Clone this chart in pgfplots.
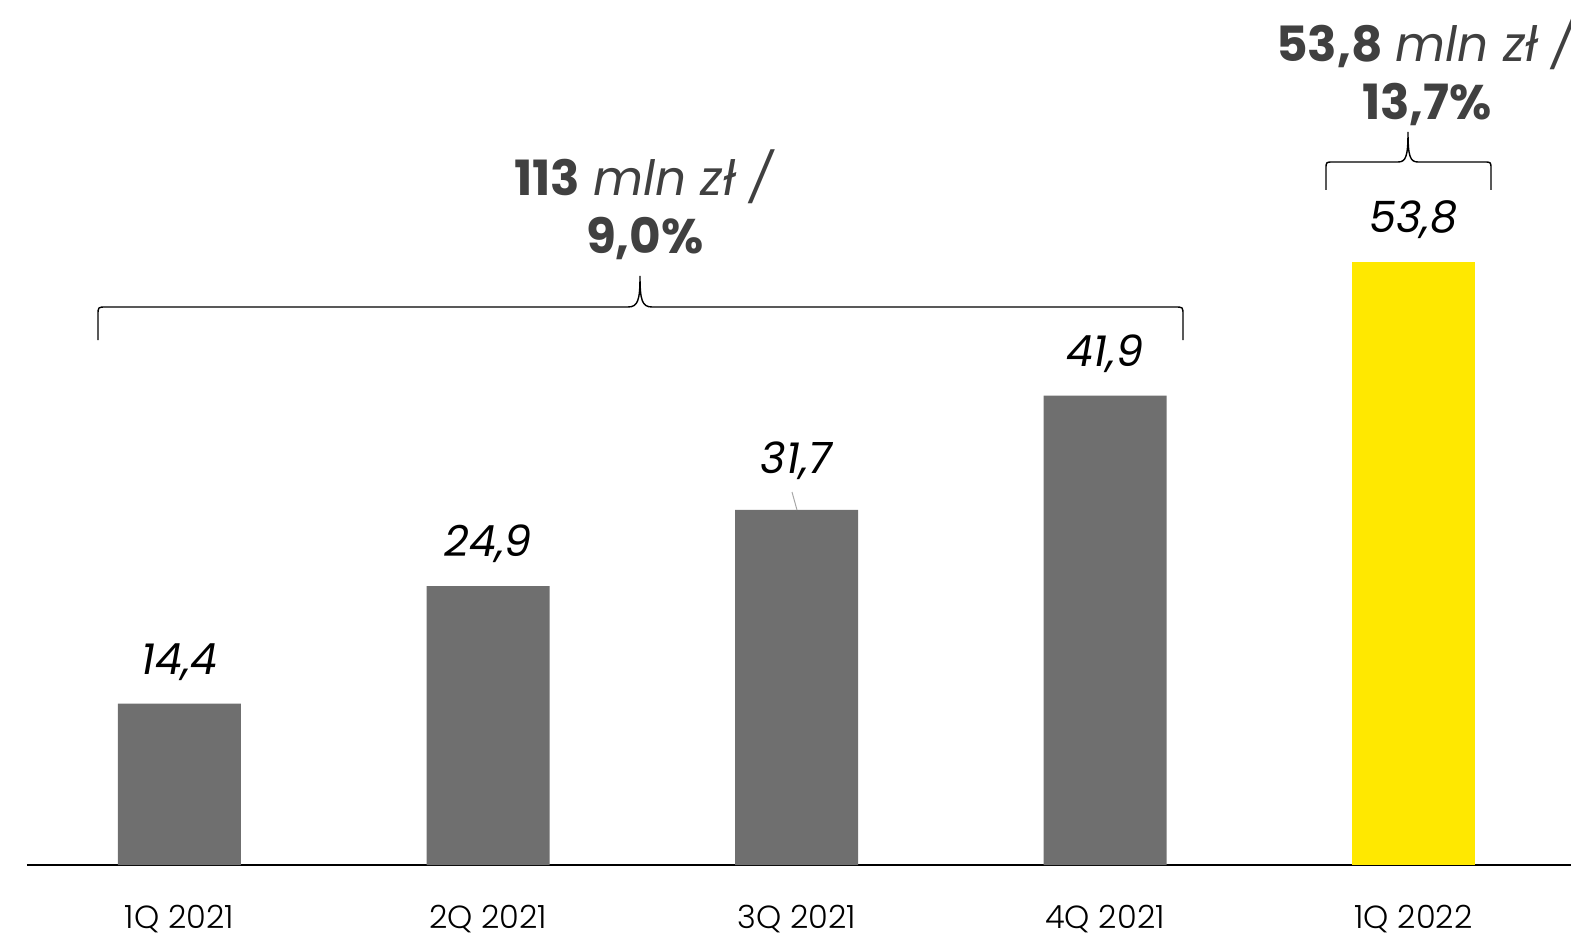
\documentclass[border=0pt]{standalone}
\usepackage{pgfplots}
\usepackage{pgfplotstable}
\pgfplotsset{compat=1.18}
\usepackage{fontspec}
\setmainfont{Poppins}
\newfontfamily\plight{Poppins Light}
\definecolor{bargray}{HTML}{6F6F6F}
\definecolor{baryellow}{HTML}{FFE800}
\definecolor{anntext}{HTML}{404040}
\pgfplotstableread{
x y lab off
0 14.4 14,4 21
1 24.9 24,9 21
2 31.7 31,7 24.5
3 41.9 41,9 21
}\graytab
\pgfplotstableread{
x y lab off
4 53.8 53,8 21.5
}\yellowtab
\begin{document}
\begin{tikzpicture}
\begin{axis}[
  at={(0,0)}, anchor=south west,
  scale only axis, width=772pt, height=432.5pt,
  xmin=-0.4943, xmax=4.5105, ymin=0, ymax=77.23,
  axis x line=bottom, axis y line=none,
  x axis line style={-, line width=1.2pt, black},
  xtick={0,1,2,3,4},
  xticklabels={1Q 2021,2Q 2021,3Q 2021,4Q 2021,1Q 2022},
  major tick length=0pt,
  xticklabel style={anchor=center, inner sep=0pt, yshift=-27.25pt, font=\plight\fontsize{16}{18}\selectfont, text=black},
  ybar, bar width=61.5pt, bar shift=0pt,
  clip=false,
  point meta=explicit symbolic,
  nodes near coords,
  visualization depends on={\thisrow{off}\as\off},
  every node near coord/.style={anchor=center, yshift=\off pt, font=\fontsize{21.5}{24}\selectfont\itshape, text=black},
]
\addplot[fill=bargray, draw=none] table[x=x, y=y, meta=lab]{\graytab};
\addplot[fill=baryellow, draw=none] table[x=x, y=y, meta=lab]{\yellowtab};
\end{axis}
\begin{scope}[x=0.5pt,y=-0.5pt,shift={(-13.5pt,432.5pt)}]
% leader line 3Q
\draw[gray!70, line width=0.5pt] (792,492) -- (797,510);
% brace 1
\draw[black, line width=0.7pt] (98,340) -- (98,315) .. controls (98,307) .. (106,307) -- (628,307)
  .. controls (638,307) and (640,300) .. (640,276)
  .. controls (640,300) and (642,307) .. (652,307) -- (1175,307)
  .. controls (1183,307) .. (1183,315) -- (1183,340);
% brace 2
\draw[black, line width=0.7pt] (1326,190) -- (1326,169) .. controls (1326,162) .. (1333,162) -- (1398,162)
  .. controls (1406,162) and (1408,156) .. (1408,132)
  .. controls (1408,156) and (1410,162) .. (1418,162) -- (1484,162)
  .. controls (1491,162) .. (1491,169) -- (1491,190);
% annotations
\node[align=center, text=anntext, font=\fontsize{24.3}{29}\selectfont] at (645,205)
  {\textbf{113} \textit{mln zł /}\\\textbf{9,0\%}};
\node[align=center, text=anntext, font=\fontsize{24.3}{29}\selectfont] at (1427,71)
  {\textbf{53,8} \textit{mln zł /}\\\textbf{13,7\%}};
\pgfresetboundingbox
\path[use as bounding box] (0,0) rectangle (1571,934);
\end{scope}
\end{tikzpicture}
\end{document}
